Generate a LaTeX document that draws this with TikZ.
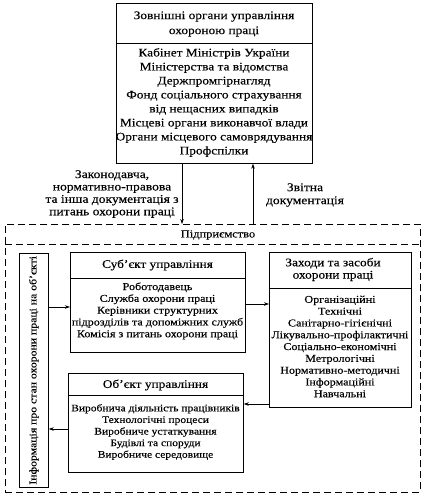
\documentclass[tikz,border=0pt]{standalone}
\usepackage{fontspec}
\setmainfont{Liberation Serif}[FakeStretch=1.15,FakeBold=0.3]
\usetikzlibrary{arrows.meta}
\begin{document}
\begin{tikzpicture}[x=1pt,y=-1pt,
  box/.style={draw, line width=0.7pt, inner sep=0pt, anchor=north west},
  dsh/.style={line width=0.8pt, dash pattern=on 7pt off 4pt},
  big/.style={align=center, inner sep=0pt, font=\fontsize{11.6}{14}\selectfont},
  hdr/.style={align=center, inner sep=0pt, font=\fontsize{11.6}{12.3}\selectfont},
  sml/.style={align=center, inner sep=0pt, font=\fontsize{10.5}{11.8}\selectfont},
  arr/.style={line width=0.7pt, -{Stealth[length=5pt,width=3.5pt]}}]
\useasboundingbox (0,0) rectangle (430,500);
% top box
\node[box, minimum width=196pt, minimum height=160pt] (top) at (116,3) {};
\coordinate (topsep) at (0,43);
\draw[line width=0.7pt] (top.west |- topsep) -- (top.east |- topsep);
\node[big, font=\fontsize{11.6}{15}\selectfont] (toph) at (214,24) {Зовнішні органи управління\\охороною праці};
\node[big] (topb) at (214,102.5) {Кабінет Міністрів України\\Міністерства та відомства\\Держпромгірнагляд\\Фонд соціального страхування\\від нещасних випадків\\Місцеві органи виконавчої влади\\Органи місцевого самоврядування\\Профспілки};
% enterprise
\node[box, dsh, draw, minimum width=415pt, minimum height=268pt] (ent) at (5,224) {};
\coordinate (entsep) at (0,244);
\draw[dsh] (ent.west |- entsep) -- (ent.east |- entsep);
\node[hdr, font=\fontsize{10.8}{12}\selectfont] (entl) at (218,235) {Підприємство};
% connectors top <-> enterprise
\coordinate (cdn) at (182,0);
\coordinate (cup) at (253,0);
\draw[arr] (top.south -| cdn) -- (ent.north -| cdn);
\draw[arr] (ent.north -| cup) -- (top.south -| cup);
\node[hdr, font=\fontsize{11.8}{12.4}\selectfont] (lab1) at (112,194) {Законодавча,\\нормативно-правова\\та інша документація з\\питань охорони праці};
\node[hdr, font=\fontsize{11.8}{13}\selectfont] (lab2) at (305,195) {Звітна\\документація};
% info box
\node[box, minimum width=29pt, minimum height=234pt] (info) at (19,253) {};
\node[sml, rotate=90, font=\fontsize{10.2}{12}\selectfont] (infot) at (info.center) {Інформація про стан охорони праці на об’єкті};
% subject
\node[box, minimum width=175pt, minimum height=100pt] (subj) at (70,252) {};
\coordinate (subjsep) at (0,278);
\draw[line width=0.7pt] (subj.west |- subjsep) -- (subj.east |- subjsep);
\node[hdr] (subjh) at (157.5,265) {Суб’єкт управління};
\node[sml] (subjb) at (157.5,311) {Роботодавець\\Служба охорони праці\\Керівники структурних\\підрозділів та допоміжних служб\\Комісія з питань охорони праці};
% measures
\node[box, minimum width=142pt, minimum height=155pt] (meas) at (269,252) {};
\coordinate (meassep) at (0,288);
\draw[line width=0.7pt] (meas.west |- meassep) -- (meas.east |- meassep);
\node[hdr] (meash) at (333,269.5) {Заходи та засоби\\охорони праці};
\node[sml] (measb) at (340,346.5) {Організаційні\\Технічні\\Санітарно-гігієнічні\\Лікувально-профілактичні\\Соціально-економічні\\Метрологічні\\Нормативно-методичні\\Інформаційні\\Навчальні};
% object
\node[box, minimum width=175pt, minimum height=99pt] (obj) at (68,373) {};
\coordinate (objsep) at (0,395);
\draw[line width=0.7pt] (obj.west |- objsep) -- (obj.east |- objsep);
\node[hdr] (objh) at (155.5,385) {Об’єкт управління};
\node[sml, font=\fontsize{10}{11.6}\selectfont] (objb) at (155.5,432) {Виробнича діяльність працівників\\Технологічні процеси\\Виробниче устаткування\\Будівлі та споруди\\Виробниче середовище};
% internal connectors
\coordinate (y1) at (0,307);
\coordinate (y2) at (0,304);
\coordinate (y3) at (0,404);
\coordinate (y4) at (0,429);
\draw[arr] (info.east |- y1) -- (subj.west |- y1);
\draw[arr] (subj.east |- y2) -- (meas.west |- y2);
\draw[arr] (meas.west |- y3) -- (obj.east |- y3);
\draw[arr] (obj.west |- y4) -- (info.east |- y4);
\end{tikzpicture}
\end{document}
